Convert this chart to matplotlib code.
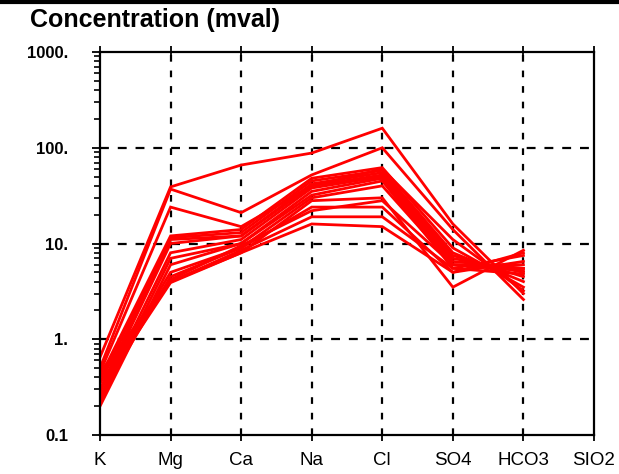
import matplotlib
matplotlib.use('Agg')
import matplotlib.pyplot as plt
from matplotlib.lines import Line2D
from matplotlib.ticker import LogLocator, NullFormatter, FixedFormatter, FixedLocator

plt.rcParams['font.family'] = ['Liberation Sans', 'DejaVu Sans']

# ions along the x axis
ions = ['K', 'Mg', 'Ca', 'Na', 'Cl', 'SO4', 'HCO3', 'SIO2']

# one sample per list: K, Mg, Ca, Na, Cl, SO4, HCO3 (mval)
samples = [
    [0.65, 39, 66, 88, 160, 16, 3.0],
    [0.50, 37, 21, 52, 100, 14, 2.6],
    [0.45, 24, 15, 40, 60, 11, 3.2],
    [0.40, 12, 14, 48, 62, 9, 3.5],
    [0.35, 11.5, 13, 45, 58, 8, 4.0],
    [0.30, 11, 12, 42, 55, 7.5, 4.5],
    [0.28, 10, 12, 40, 52, 7, 5.0],
    [0.25, 8, 11, 38, 50, 6.5, 5.5],
    [0.22, 7, 10, 35, 48, 6, 6.0],
    [0.20, 6, 10, 32, 45, 5.5, 4.8],
    [0.30, 5, 9, 30, 40, 6, 5.2],
    [0.25, 4.5, 9, 24, 24, 5, 6.5],
    [0.35, 4, 8.5, 19, 19, 5.5, 7.5],
    [0.40, 4, 8, 16, 15, 5, 8.0],
    [0.30, 3.9, 8, 28, 30, 3.5, 8.5],
    [0.45, 4.2, 9.5, 22, 28, 6, 5.5],
]

ytick_vals = [0.1, 1, 10, 100, 1000]
ytick_labels = ['0.1', '1.', '10.', '100.', '1000.']

fig = plt.figure(figsize=(6.19, 4.74), dpi=100)
ax = fig.add_axes([100 / 619, 39 / 474, 494 / 619, 383 / 474])

xs = list(range(len(ions)))
for s in samples:
    ax.plot(xs[:len(s)], s, color='#ff0000', lw=2.0, solid_joinstyle='miter')

ax.set_yscale('log')
ax.set_ylim(0.1, 1000)
ax.set_xlim(0, len(ions) - 1)

# dashed grid at decades and ion positions
for v in ytick_vals[1:-1]:
    ax.axhline(v, color='black', lw=1.6, ls=(0, (4, 4)), zorder=0)
for x in xs[1:-1]:
    ax.axvline(x, color='black', lw=1.6, ls=(0, (3, 4)), zorder=0)

ax.yaxis.set_major_locator(FixedLocator(ytick_vals))
ax.yaxis.set_major_formatter(FixedFormatter(ytick_labels))
ax.yaxis.set_minor_locator(LogLocator(base=10, subs=range(2, 10)))
ax.yaxis.set_minor_formatter(NullFormatter())
ax.tick_params(axis='y', which='major', direction='inout', length=12, width=1.3,
               pad=17, labelsize=12)
ax.tick_params(axis='y', which='minor', direction='out', length=4, width=1.2)
for lab in ax.get_yticklabels():
    lab.set_fontweight('bold')

ax.set_xticks(xs)
ax.set_xticklabels(ions)
ax.tick_params(axis='x', direction='inout', length=8, width=1.3, pad=8,
               labelsize=13.5, top=True)
ax.tick_params(axis='x', which='minor', bottom=False)

for sp in ax.spines.values():
    sp.set_linewidth(1.6)

fig.text(30 / 619, 1 - 20 / 474, 'Concentration (mval)', fontsize=18,
         fontweight='bold', va='center', ha='left')
fig.add_artist(Line2D([0, 1], [1 - 2 / 474, 1 - 2 / 474], transform=fig.transFigure,
                      color='black', lw=3))

fig.savefig('out.png', dpi=100)
